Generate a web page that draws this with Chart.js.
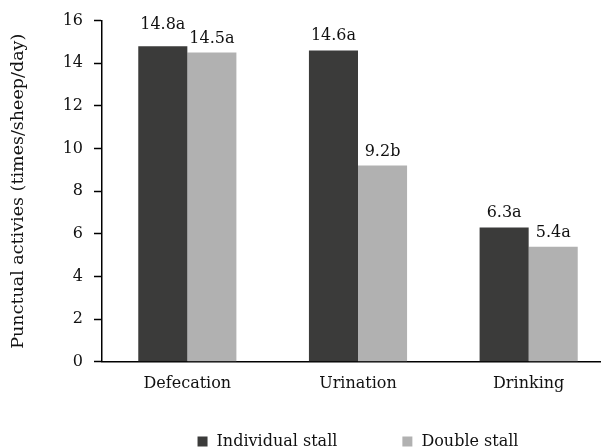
<!DOCTYPE html>
<html>
<head>
<meta charset="utf-8">
<script src="https://cdn.jsdelivr.net/npm/chart.js@4"></script>
<style>
  html, body { margin: 0; padding: 0; background: #fff; overflow: hidden; }
  #wrap { width: 620px; height: 448px; }
</style>
</head>
<body>
<div id="wrap"><canvas id="behaviourChart"></canvas></div>
<script>
const categories = ['Defecation', 'Urination', 'Drinking'];
const seriesNames = ['Individual stall', 'Double stall'];
const individualStall = [14.8, 14.6, 6.3];
const doubleStall = [14.5, 9.2, 5.4];
const individualLetters = ['a', 'a', 'a'];
const doubleLetters = ['a', 'b', 'a'];
const yTicks = [0, 2, 4, 6, 8, 10, 12, 14, 16];

const FONT = 'DejaVu Serif';
const letters = [individualLetters, doubleLetters];

// value labels above the bars, e.g. "14.6a"
const barLabels = {
  id: 'barLabels',
  afterDatasetsDraw(chart) {
    const ctx = chart.ctx;
    ctx.save();
    ctx.font = '16px "' + FONT + '"';
    ctx.fillStyle = '#111';
    ctx.textAlign = 'center';
    ctx.textBaseline = 'alphabetic';
    const m0 = chart.getDatasetMeta(0).data;
    const m1 = chart.getDatasetMeta(1).data;
    chart.data.datasets.forEach((ds, di) => {
      chart.getDatasetMeta(di).data.forEach((bar, i) => {
        const txt = ds.data[i].toFixed(1) + letters[di][i];
        let y = bar.y - 10;
        // lift the left label when it would crowd its neighbour
        if (di === 0 && Math.abs(m0[i].y - m1[i].y) < 16) y -= 7;
        ctx.fillText(txt, bar.x, y);
      });
    });
    ctx.restore();
  }
};

// legend drawn below the axis labels
const bottomLegend = {
  id: 'bottomLegend',
  afterDraw(chart) {
    const ctx = chart.ctx;
    const area = chart.chartArea;
    ctx.save();
    ctx.font = '16px "' + FONT + '"';
    ctx.textBaseline = 'middle';
    const box = 10, gapText = 9, gapItem = 65;
    const widths = chart.data.datasets.map(ds => box + gapText + ctx.measureText(ds.label).width);
    const total = widths.reduce((a, b) => a + b, 0) + gapItem;
    let x = (area.left + area.right) / 2 - total / 2;
    const yc = 441.5;
    chart.data.datasets.forEach((ds, i) => {
      ctx.fillStyle = ds.backgroundColor;
      ctx.fillRect(x, yc - box / 2, box, box);
      ctx.fillStyle = '#111';
      ctx.fillText(ds.label, x + box + gapText, yc);
      x += widths[i] + gapItem;
    });
    ctx.restore();
  }
};

const ctx = document.getElementById('behaviourChart').getContext('2d');
const behaviourChart = new Chart(ctx, {
  type: 'bar',
  data: {
    labels: categories,
    datasets: [{
      label: seriesNames[0],
      data: individualStall,
      backgroundColor: '#3b3b3a'
    }, {
      label: seriesNames[1],
      data: doubleStall,
      backgroundColor: '#b1b1b1'
    }]
  },
  options: {
    responsive: true,
    maintainAspectRatio: false,
    animation: false,
    layout: {
      padding: { top: 5.5, right: 6, bottom: 43, left: 0 }
    },
    datasets: {
      bar: { barPercentage: 1, categoryPercentage: 0.575 }
    },
    scales: {
      x: {
        grid: { display: false, drawTicks: false },
        border: { display: true, color: '#000', width: 1.5 },
        ticks: { color: '#111', padding: 12, font: { family: FONT, size: 16 } }
      },
      y: {
        min: 0,
        max: 16,
        afterBuildTicks: (scale) => { scale.ticks = yTicks.map(v => ({ value: v })); },
        afterFit: (scale) => { scale.width = 102; },
        grid: { drawOnChartArea: false, drawTicks: true, tickLength: 8, tickColor: '#000', tickWidth: 1.5 },
        border: { display: true, color: '#000', width: 1.5 },
        ticks: { color: '#111', padding: 11, font: { family: FONT, size: 16 } },
        title: {
          display: true,
          text: 'Punctual activies (times/sheep/day)',
          color: '#111',
          padding: { top: 8, bottom: 0 },
          font: { family: FONT, size: 17.5 }
        }
      }
    },
    plugins: {
      legend: { display: false },
      tooltip: { enabled: false }
    }
  },
  plugins: [barLabels, bottomLegend]
});
</script>
</body>
</html>
